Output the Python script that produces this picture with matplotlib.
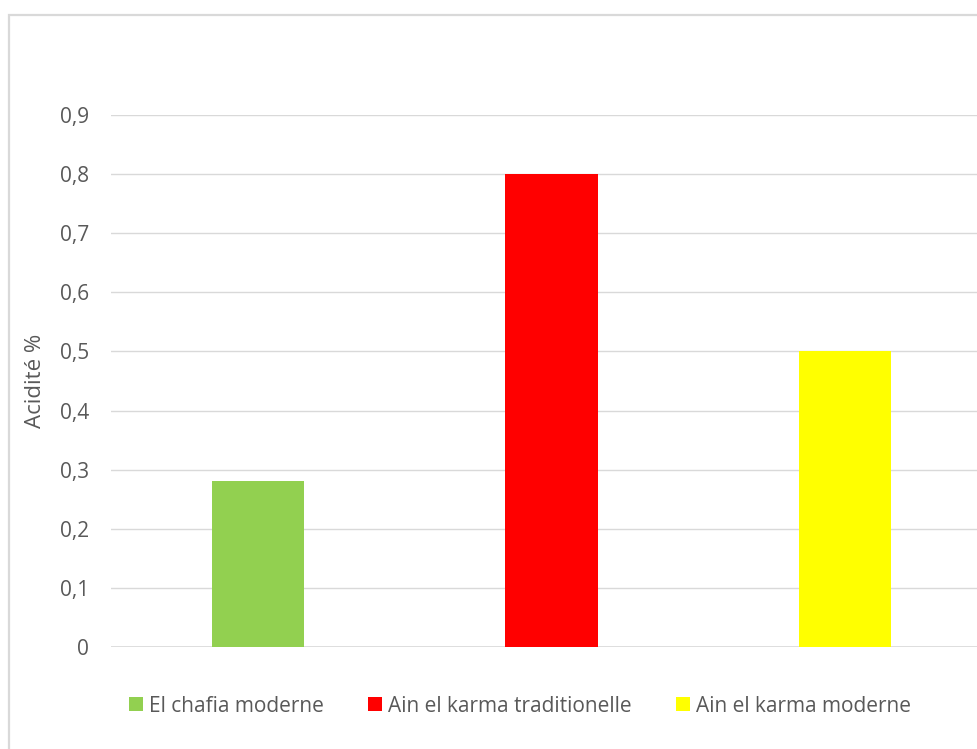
import matplotlib
matplotlib.use("Agg")
import matplotlib.pyplot as plt
from matplotlib.patches import Rectangle, Patch
from matplotlib.ticker import FuncFormatter

categories = ["El chafia moderne", "Ain el karma traditionelle", "Ain el karma moderne"]
acidity = [0.28, 0.80, 0.50]
colors = ["#92D050", "#FF0000", "#FFFF00"]
y_ticks = [0, 0.1, 0.2, 0.3, 0.4, 0.5, 0.6, 0.7, 0.8, 0.9]

plt.rcParams["font.family"] = ["Open Sans", "DejaVu Sans"]
TEXT = "#595959"
GRID = "#d9d9d9"

W, H = 977, 749
fig = plt.figure(figsize=(W / 100, H / 100), dpi=100)

# chart border (cropped on right and bottom in the reference)
fig.patches.append(Rectangle((9 / W, -0.05), 1.1, (H - 15) / H + 0.05,
                             transform=fig.transFigure, fill=False,
                             edgecolor=GRID, linewidth=1.6))

ax = fig.add_axes([111 / W, (H - 647) / H, 881 / W, 532 / H])
x = range(len(categories))
ax.bar(x, acidity, width=0.314, color=colors, zorder=3)

ax.set_xlim(-0.5, len(categories) - 0.5)
ax.set_ylim(0, 0.9)
ax.set_yticks(y_ticks)
ax.yaxis.set_major_formatter(FuncFormatter(lambda v, _: f"{v:g}".replace(".", ",")))
ax.set_xticks([])
ax.tick_params(axis="y", length=0, pad=16, labelsize=15, labelcolor=TEXT)
ax.grid(axis="y", color=GRID, linewidth=1, zorder=0)
for s in ax.spines.values():
    s.set_visible(False)
ax.axhline(0, color=GRID, linewidth=1.2, zorder=2)

ax.set_ylabel("Acidité %", fontsize=16, color=TEXT, labelpad=10)

handles = [Patch(facecolor=c, edgecolor="none") for c in colors]
fig.legend(handles, categories, loc="center", bbox_to_anchor=(520 / W, (H - 706) / H),
           ncol=3, frameon=False, fontsize=15, labelcolor=TEXT,
           handlelength=0.67, handleheight=0.67, handletextpad=0.3, columnspacing=2.1)

fig.savefig("out.png", dpi=100, facecolor="white")
